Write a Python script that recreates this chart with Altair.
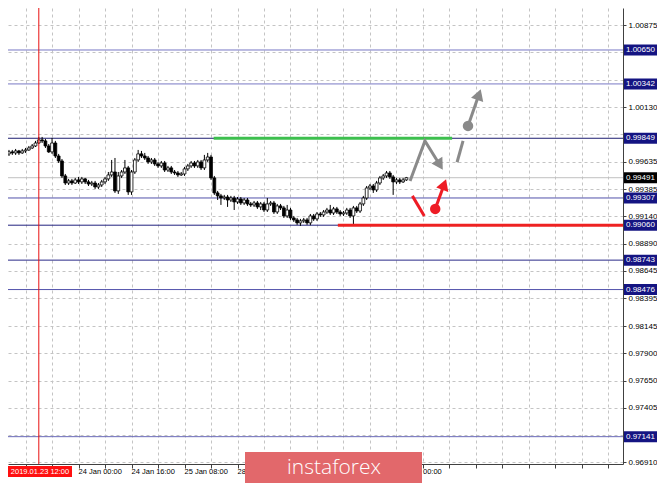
import altair as alt
import pandas as pd

W, H = 615, 456

# hourly bars, index 0 = 2019.01.23 12:00 (weekend bars are absent)
bar_t = list(range(-9, 112))
bar_open = [0.99707, 0.99725, 0.99716, 0.99734, 0.99716, 0.99734, 0.99743, 0.99761, 0.99779, 0.99806,
            0.99834, 0.99825, 0.99779, 0.99725, 0.99806, 0.99688, 0.99643, 0.99507, 0.99443, 0.99462,
            0.99443, 0.99471, 0.99453, 0.99480, 0.99453, 0.99434, 0.99443, 0.99407, 0.99425, 0.99453,
            0.99480, 0.99516, 0.99543, 0.99371, 0.99507, 0.99543, 0.99580, 0.99362, 0.99543, 0.99652,
            0.99707, 0.99688, 0.99670, 0.99634, 0.99652, 0.99616, 0.99598, 0.99625, 0.99561, 0.99580,
            0.99543, 0.99534, 0.99516, 0.99525, 0.99571, 0.99598, 0.99625, 0.99598, 0.99634, 0.99580,
            0.99652, 0.99679, 0.99489, 0.99353, 0.99326, 0.99307, 0.99316, 0.99289, 0.99307, 0.99271,
            0.99298, 0.99262, 0.99289, 0.99253, 0.99244, 0.99262, 0.99226, 0.99253, 0.99198, 0.99253,
            0.99262, 0.99180, 0.99235, 0.99217, 0.99144, 0.99198, 0.99126, 0.99108, 0.99081, 0.99099,
            0.99108, 0.99081, 0.99144, 0.99117, 0.99162, 0.99153, 0.99180, 0.99198, 0.99171, 0.99208,
            0.99180, 0.99162, 0.99171, 0.99198, 0.99144, 0.99217, 0.99189, 0.99253, 0.99307, 0.99398,
            0.99416, 0.99380, 0.99443, 0.99489, 0.99507, 0.99534, 0.99498, 0.99453, 0.99471, 0.99453,
            0.99471]
bar_close = [0.99725, 0.99716, 0.99734, 0.99716, 0.99734, 0.99743, 0.99761, 0.99779, 0.99806, 0.99834,
             0.99825, 0.99779, 0.99725, 0.99806, 0.99688, 0.99643, 0.99507, 0.99443, 0.99462, 0.99443,
             0.99471, 0.99453, 0.99480, 0.99453, 0.99434, 0.99443, 0.99407, 0.99425, 0.99453, 0.99480,
             0.99516, 0.99543, 0.99371, 0.99507, 0.99543, 0.99580, 0.99362, 0.99543, 0.99652, 0.99707,
             0.99688, 0.99670, 0.99634, 0.99652, 0.99616, 0.99598, 0.99625, 0.99561, 0.99580, 0.99543,
             0.99534, 0.99516, 0.99525, 0.99571, 0.99598, 0.99625, 0.99598, 0.99634, 0.99580, 0.99652,
             0.99679, 0.99489, 0.99353, 0.99326, 0.99307, 0.99316, 0.99289, 0.99307, 0.99271, 0.99298,
             0.99262, 0.99289, 0.99253, 0.99244, 0.99262, 0.99226, 0.99253, 0.99198, 0.99253, 0.99262,
             0.99180, 0.99235, 0.99217, 0.99144, 0.99198, 0.99126, 0.99108, 0.99081, 0.99099, 0.99108,
             0.99081, 0.99144, 0.99117, 0.99162, 0.99153, 0.99180, 0.99198, 0.99171, 0.99208, 0.99180,
             0.99162, 0.99171, 0.99198, 0.99144, 0.99217, 0.99189, 0.99253, 0.99307, 0.99398, 0.99416,
             0.99380, 0.99443, 0.99489, 0.99507, 0.99534, 0.99498, 0.99453, 0.99471, 0.99453, 0.99471,
             0.99491]
bar_high = [0.99743, 0.99743, 0.99752, 0.99743, 0.99752, 0.99761, 0.99779, 0.99797, 0.99825, 0.99861,
            0.99861, 0.99843, 0.99797, 0.99852, 0.99825, 0.99707, 0.99661, 0.99525, 0.99480, 0.99480,
            0.99489, 0.99498, 0.99498, 0.99489, 0.99471, 0.99462, 0.99462, 0.99443, 0.99471, 0.99498,
            0.99543, 0.99652, 0.99670, 0.99543, 0.99561, 0.99652, 0.99598, 0.99561, 0.99670, 0.99743,
            0.99734, 0.99716, 0.99688, 0.99670, 0.99670, 0.99634, 0.99643, 0.99643, 0.99598, 0.99598,
            0.99561, 0.99552, 0.99543, 0.99589, 0.99616, 0.99643, 0.99643, 0.99652, 0.99652, 0.99698,
            0.99716, 0.99698, 0.99507, 0.99371, 0.99344, 0.99335, 0.99335, 0.99326, 0.99326, 0.99316,
            0.99316, 0.99307, 0.99307, 0.99271, 0.99280, 0.99280, 0.99271, 0.99271, 0.99307, 0.99280,
            0.99280, 0.99253, 0.99253, 0.99235, 0.99244, 0.99217, 0.99144, 0.99126, 0.99117, 0.99126,
            0.99126, 0.99162, 0.99162, 0.99180, 0.99180, 0.99198, 0.99217, 0.99244, 0.99226, 0.99226,
            0.99198, 0.99189, 0.99217, 0.99217, 0.99235, 0.99235, 0.99271, 0.99326, 0.99416, 0.99434,
            0.99434, 0.99462, 0.99507, 0.99525, 0.99552, 0.99552, 0.99516, 0.99489, 0.99489, 0.99489,
            0.99498]
bar_low = [0.99688, 0.99698, 0.99698, 0.99698, 0.99707, 0.99716, 0.99734, 0.99752, 0.99770, 0.99797,
           0.99806, 0.99761, 0.99716, 0.99707, 0.99670, 0.99625, 0.99489, 0.99425, 0.99425, 0.99425,
           0.99434, 0.99434, 0.99434, 0.99434, 0.99416, 0.99416, 0.99389, 0.99389, 0.99407, 0.99434,
           0.99462, 0.99498, 0.99353, 0.99344, 0.99489, 0.99525, 0.99335, 0.99335, 0.99525, 0.99634,
           0.99670, 0.99652, 0.99616, 0.99616, 0.99598, 0.99580, 0.99580, 0.99543, 0.99543, 0.99525,
           0.99516, 0.99498, 0.99507, 0.99507, 0.99552, 0.99580, 0.99580, 0.99580, 0.99561, 0.99561,
           0.99634, 0.99471, 0.99335, 0.99289, 0.99244, 0.99289, 0.99226, 0.99271, 0.99198, 0.99253,
           0.99244, 0.99244, 0.99235, 0.99226, 0.99226, 0.99208, 0.99198, 0.99180, 0.99180, 0.99235,
           0.99162, 0.99162, 0.99198, 0.99126, 0.99126, 0.99108, 0.99090, 0.99063, 0.99054, 0.99081,
           0.99063, 0.99060, 0.99099, 0.99099, 0.99135, 0.99135, 0.99162, 0.99153, 0.99153, 0.99162,
           0.99144, 0.99144, 0.99153, 0.99126, 0.99060, 0.99171, 0.99171, 0.99235, 0.99289, 0.99380,
           0.99353, 0.99362, 0.99425, 0.99471, 0.99489, 0.99480, 0.99335, 0.99434, 0.99434, 0.99443,
           0.99462]

levels = [1.00650, 1.00342, 0.99849, 0.99307, 0.99060, 0.98743, 0.98476, 0.97141]
level_colors = ["#7878c4", "#7878c4", "#1c1c70", "#5252aa", "#22227f", "#2a2a88", "#5252ac", "#6a6ab8"]
last_price = 0.99491

# price grid (every tick gets a grid line); labels hidden by level boxes are not printed
price_ticks = [1.00875, 1.00630, 1.00380, 1.00130, 0.99885, 0.99635, 0.99385, 0.99140, 0.98890,
               0.98645, 0.98395, 0.98145, 0.97900, 0.97650, 0.97405, 0.97155, 0.96910]
hidden_price_labels = [1.00630, 1.00380, 0.99885, 0.97155]

time_grid = [-4, 4, 12, 20, 28, 36, 44, 52, 60, 68, 76, 84, 92, 100, 108, 116, 124, 132, 140,
             148, 156, 164, 172]
time_label_pos = [12, 28, 44, 60]
time_labels = ["24 Jan 00:00", "24 Jan 16:00", "25 Jan 08:00", "28"]
tail_label = "00:00"
cursor_label = "2019.01.23 12:00"

# resistance (green) and support (red) segments
seg_name = ["resistance", "support"]
seg_t1 = [52.8, 90.3]
seg_t2 = [124.8, 176.4]
seg_price = [0.99849, 0.99060]
seg_color = ["#3dbf4e", "#ee2222"]

# scenario arrows
arrow_seg = ["g1", "g1", "g1", "g2", "g2", "g3", "g3", "r1", "r1", "r2", "r2"]
arrow_order = [0, 1, 2, 0, 1, 0, 1, 0, 1, 0, 1]
arrow_t = [112.1, 116.6, 121.1, 126.3, 128.1, 129.6, 132.9, 112.8, 116.4, 119.7, 122.4]
arrow_p = [0.99462, 0.99825, 0.99607, 0.99631, 0.99825, 0.99961, 1.00245,
           0.99326, 0.99144, 0.99208, 0.99429]
arrow_col = ["#8a8a8a"] * 7 + ["#ee1c25"] * 4

head_t = [121.1, 132.9, 122.4]
head_p = [0.99607, 1.00245, 0.99429]
head_angle = [148, 19, 20]
head_col = ["#8a8a8a", "#8a8a8a", "#ee1c25"]

dot_t = [129.6, 119.7]
dot_p = [0.99961, 0.99208]
dot_col = ["#8a8a8a", "#ee1c25"]

Y_DOMAIN = [0.96893, 1.01031]
X_DOMAIN = [-9.3, 176.4]
BOX_HALF = 5.5 * (Y_DOMAIN[1] - Y_DOMAIN[0]) / H

hidden_js = "[" + ",".join(str(v) for v in hidden_price_labels) + "]"

xs = alt.Scale(domain=X_DOMAIN, nice=False, zero=False, padding=0)
ys = alt.Scale(domain=Y_DOMAIN, nice=False, zero=False, padding=0)
x_axis = alt.Axis(values=time_grid, labels=False, title=None, tickSize=4, tickColor="#404040",
                  domainColor="#404040", grid=True, gridDash=[3, 3], gridColor="#c4c4c4")
y_axis = alt.Axis(values=price_ticks, format=".5f", orient="right", title=None, tickSize=3,
                  tickColor="#404040", domainColor="#404040", grid=True, gridDash=[3, 3],
                  gridColor="#c4c4c4", labelFontSize=8, labelColor="#000000", labelPadding=2,
                  labelFont="Liberation Sans",
                  labelExpr=f"indexof({hidden_js}, datum.value) >= 0 ? '' : datum.label")


def X(f):
    return alt.X(f, type="quantitative", scale=xs, axis=x_axis)


def Y(f):
    return alt.Y(f, type="quantitative", scale=ys, axis=y_axis)


candles = pd.DataFrame({"t": bar_t, "o": bar_open, "h": bar_high, "l": bar_low, "c": bar_close})
lv = pd.DataFrame({"v": levels, "col": level_colors})
lp = pd.DataFrame({"v": [last_price]})
segs = pd.DataFrame({"name": seg_name, "t1": seg_t1, "t2": seg_t2, "v": seg_price, "col": seg_color})
arrows = pd.DataFrame({"seg": arrow_seg, "k": arrow_order, "t": arrow_t, "v": arrow_p, "col": arrow_col})
heads = pd.DataFrame({"t": head_t, "v": head_p, "ang": head_angle, "col": head_col})
dots = pd.DataFrame({"t": dot_t, "v": dot_p, "col": dot_col})
tl = pd.DataFrame({"t": time_label_pos, "lab": time_labels})
tail = pd.DataFrame({"lab": [tail_label]})
cur = pd.DataFrame({"t": [0], "lab": [cursor_label]})
brand = pd.DataFrame({"lab": ["instaforex"]})

grid_layer = alt.Chart(lv).mark_rule(strokeWidth=1).encode(
    y=Y("v"), color=alt.Color("col:N", scale=None))

last_line = alt.Chart(lp).mark_rule(color="#c0c0c0", strokeWidth=1).encode(y=Y("v"))

wicks = alt.Chart(candles).mark_rule(color="#000000", strokeWidth=1).encode(
    x=X("t"), y=Y("l"), y2="h")
bodies = alt.Chart(candles).mark_bar(size=2.8, stroke="#000000", strokeWidth=0.8).encode(
    x=X("t"), y=Y("o"), y2="c",
    fill=alt.condition("datum.c >= datum.o", alt.value("#ffffff"), alt.value("#000000")))

cursor_line = alt.Chart(cur).mark_rule(color="#e81010", strokeWidth=1).encode(x=X("t"))

seg_layer = alt.Chart(segs).mark_rule(strokeWidth=3).encode(
    x=X("t1"), x2="t2", y=Y("v"), color=alt.Color("col:N", scale=None))

arrow_lines = alt.Chart(arrows).mark_line(strokeWidth=3).encode(
    x=X("t"), y=Y("v"), detail="seg:N", order="k:Q", color=alt.Color("col:N", scale=None))
arrow_heads = alt.Chart(heads).mark_point(shape="triangle-up", filled=True, size=165, opacity=1).encode(
    x=X("t"), y=Y("v"), angle=alt.Angle("ang:Q", scale=None), color=alt.Color("col:N", scale=None))
arrow_dots = alt.Chart(dots).mark_point(shape="circle", filled=True, size=110, opacity=1).encode(
    x=X("t"), y=Y("v"), color=alt.Color("col:N", scale=None))

box_lv = alt.Chart(lv).transform_calculate(
    top=f"datum.v + {BOX_HALF}", bot=f"datum.v - {BOX_HALF}").mark_rect(
    color="#141482").encode(x=alt.value(W + 1), x2=alt.value(W + 34), y=Y("top:Q"), y2="bot:Q")
box_lv_text = alt.Chart(lv).mark_text(align="left", baseline="middle", fontSize=8, color="#ffffff",
                                      font="Liberation Sans").encode(
    x=alt.value(W + 3), y=Y("v"), text=alt.Text("v:Q", format=".5f"))
box_lp = alt.Chart(lp).transform_calculate(
    top=f"datum.v + {BOX_HALF}", bot=f"datum.v - {BOX_HALF}").mark_rect(
    color="#000000").encode(x=alt.value(W + 1), x2=alt.value(W + 34), y=Y("top:Q"), y2="bot:Q")
box_lp_text = alt.Chart(lp).mark_text(align="left", baseline="middle", fontSize=8, color="#ffffff",
                                      font="Liberation Sans").encode(
    x=alt.value(W + 3), y=Y("v"), text=alt.Text("v:Q", format=".5f"))

time_text = alt.Chart(tl).mark_text(align="left", baseline="middle", fontSize=7.5, color="#000000",
                                    font="Liberation Sans").encode(
    x=X("t"), y=alt.value(H + 8), text="lab:N")
tail_text = alt.Chart(tail).mark_text(align="left", baseline="middle", fontSize=7.5, color="#000000",
                                      font="Liberation Sans").encode(
    x=alt.value(415), y=alt.value(H + 8), text="lab:N")
cur_box = alt.Chart(cur).mark_rect(color="#ff1010").encode(
    x=alt.value(0), x2=alt.value(64), y=alt.value(H + 2), y2=alt.value(H + 13))
cur_text = alt.Chart(cur).mark_text(align="center", baseline="middle", fontSize=7.5, color="#ffffff",
                                    font="Liberation Sans").encode(
    x=alt.value(32), y=alt.value(H + 8), text="lab:N")

brand_box = alt.Chart(brand).mark_rect(color="#e2686b").encode(
    x=alt.value(237), x2=alt.value(414), y=alt.value(H - 12), y2=alt.value(H + 30))
brand_text = alt.Chart(brand).mark_text(align="center", baseline="alphabetic", fontSize=21,
                                        color="#ffffff", font="Open Sans", fontWeight=300).encode(
    x=alt.value(326), y=alt.value(H + 10), text="lab:N")

chart = alt.layer(
    grid_layer, last_line, wicks, bodies, cursor_line, seg_layer,
    arrow_lines, arrow_heads, arrow_dots,
    box_lv, box_lv_text, box_lp, box_lp_text,
    time_text, tail_text, cur_box, cur_text, brand_box, brand_text,
).properties(
    width=W, height=H,
    autosize=alt.AutoSizeParams(type="none"),
    padding={"left": 0, "top": 0, "right": 34, "bottom": 30},
    background="#ffffff",
).configure_view(stroke=None)

chart.save("out.html", embed_options={"renderer": "svg", "actions": False})
